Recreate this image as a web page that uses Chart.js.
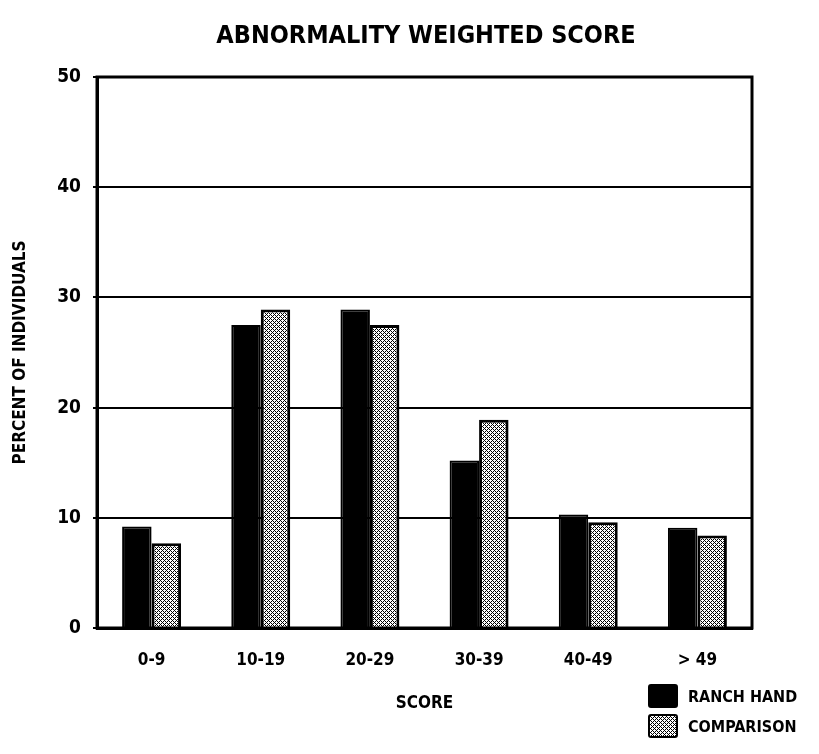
<!DOCTYPE html>
<html>
<head>
<meta charset="utf-8">
<script src="https://cdn.jsdelivr.net/npm/chart.js@4"></script>
<style>
  body { margin: 0; background: #fff; }
  #wrap { position: relative; width: 819px; height: 754px; overflow: hidden; }
  #title { position: absolute; left: 0; width: 852px; top: 22px; text-align: center; font-family: "Liberation Sans Narrow", "DejaVu Sans Condensed", sans-serif; font-weight: bold; font-size: 25px; line-height: 25px; color: #000; }
  #legend { position: absolute; left: 648px; top: 681px; font-family: "Liberation Sans Narrow", "DejaVu Sans Condensed", sans-serif; font-weight: bold; font-size: 16px; color: #000; }
  .item { display: flex; align-items: center; height: 30px; }
  .box { width: 30px; height: 24px; border: 2px solid #000; border-radius: 3px; margin-right: 10px; box-sizing: border-box; }
</style>
</head>
<body>
<div id="wrap">
  <canvas id="barChart" width="819" height="754"></canvas>
  <div id="title">ABNORMALITY WEIGHTED SCORE</div>
  <div id="legend"></div>
</div>
<script>
const scoreLabels = ["0-9", "10-19", "20-29", "30-39", "40-49", "> 49"];
const ranchHand = [9.2, 27.5, 28.9, 15.2, 10.3, 9.1];
const comparison = [7.7, 28.9, 27.5, 18.9, 9.6, 8.4];
const seriesNames = ["RANCH HAND", "COMPARISON"];

const fontFamily = '"Liberation Sans Narrow", "DejaVu Sans Condensed", sans-serif';

// white diamonds on a black lattice
function makePattern() {
  const c = document.createElement("canvas");
  c.width = 4;
  c.height = 4;
  const g = c.getContext("2d");
  g.fillStyle = "#fff";
  g.fillRect(0, 0, 4, 4);
  g.fillStyle = "#000";
  for (let x = 0; x < 4; x++) {
    for (let y = 0; y < 4; y++) {
      if ((x + y) % 4 === 0 || (x - y + 4) % 4 === 0) {
        g.fillRect(x, y, 1, 1);
      }
    }
  }
  return c;
}

const patternCanvas = makePattern();
const ctx = document.getElementById("barChart").getContext("2d");
const hatch = ctx.createPattern(patternCanvas, "repeat");

// box round the plot area
const frame = {
  id: "frame",
  afterDraw: function (chart) {
    const a = chart.chartArea;
    const g = chart.ctx;
    g.save();
    g.strokeStyle = "#000";
    g.lineWidth = 3;
    g.strokeRect(a.left, a.top, a.right - a.left, a.bottom - a.top);
    g.restore();
  }
};

const barChart = new Chart(ctx, {
  type: "bar",
  data: {
    labels: scoreLabels,
    datasets: [
      {
        label: seriesNames[0],
        data: ranchHand,
        backgroundColor: "#000",
        borderColor: "#000",
        borderWidth: 2
      },
      {
        label: seriesNames[1],
        data: comparison,
        backgroundColor: hatch,
        borderColor: "#000",
        borderWidth: 3
      }
    ]
  },
  options: {
    responsive: false,
    animation: false,
    categoryPercentage: 0.54,
    barPercentage: 1,
    layout: { padding: { left: 0, right: 67, top: 77, bottom: 0 } },
    plugins: {
      legend: { display: false },
      tooltip: { enabled: false }
    },
    scales: {
      x: {
        grid: { display: false },
        border: { color: "#000", width: 3 },
        ticks: {
          color: "#000",
          padding: 14,
          font: { family: fontFamily, size: 17, weight: "bold" }
        },
        title: {
          display: true,
          text: "SCORE",
          color: "#000",
          font: { family: fontFamily, size: 17, weight: "bold" },
          padding: { top: 14, bottom: 40 }
        },
        afterFit: function (scale) { scale.height = 126; }
      },
      y: {
        min: 0,
        max: 50,
        ticks: {
          stepSize: 10,
          color: "#000",
          padding: 12,
          font: { family: fontFamily, size: 19, weight: "bold" }
        },
        grid: { color: "#000", lineWidth: 2, tickLength: 4 },
        border: { color: "#000", width: 3 },
        title: {
          display: true,
          text: "PERCENT OF INDIVIDUALS",
          color: "#000",
          font: { family: fontFamily, size: 17, weight: "bold" },
          padding: { top: 10, bottom: 0 }
        },
        afterFit: function (scale) { scale.width = 97; }
      }
    }
  },
  plugins: [frame]
});

// legend as html
const legend = document.getElementById("legend");
barChart.data.datasets.forEach(function (ds, i) {
  const item = document.createElement("div");
  item.className = "item";
  const box = document.createElement("span");
  box.className = "box";
  if (i === 0) {
    box.style.background = "#000";
  } else {
    box.style.backgroundImage = "url(" + patternCanvas.toDataURL() + ")";
  }
  const text = document.createElement("span");
  text.textContent = ds.label;
  item.appendChild(box);
  item.appendChild(text);
  legend.appendChild(item);
});
</script>
</body>
</html>
